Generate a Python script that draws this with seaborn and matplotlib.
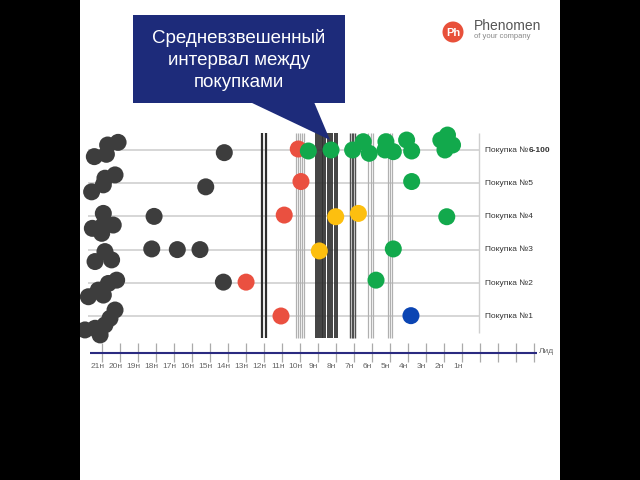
import numpy as np
import pandas as pd
import matplotlib
matplotlib.use("Agg")
import matplotlib.pyplot as plt
import seaborn as sns
from matplotlib.patches import Rectangle, Polygon, Ellipse

sns.set_theme(style="white")
plt.rcParams['font.family'] = ['Liberation Sans', 'DejaVu Sans']

# ---------------- data ----------------
row_labels = ["Покупка №1", "Покупка №2", "Покупка №3", "Покупка №4", "Покупка №5", "Покупка №"]
row_bold_suffix = ["", "", "", "", "", "6-100"]
row_levels = [0, 1, 2, 3, 4, 5]

week_ticks = [21, 20, 19, 18, 17, 16, 15, 14, 13, 12, 11, 10, 9, 8, 7, 6, 5, 4, 3, 2, 1, 0, -1, -2, -3]
week_labels = ["21н", "20н", "19н", "18н", "17н", "16н", "15н", "14н", "13н", "12н", "11н",
               "10н", "9н", "8н", "7н", "6н", "5н", "4н", "3н", "2н", "1н"]
lead_label = "Лид"

dark_week = [21.41, 20.74, 20.67, 20.09, 14.19,
             21.56, 20.91, 20.82, 20.26, 15.22,
             21.52, 20.91, 21.00, 20.36, 20.91, 18.09,
             21.37, 20.82, 20.45, 18.22, 16.80, 15.54,
             21.74, 21.19, 20.63, 20.17, 20.91, 14.24,
             21.93, 21.37, 21.09, 20.54, 20.26, 20.82]
dark_level = [4.80, 4.87, 5.15, 5.23, 4.92,
              3.74, 3.95, 4.15, 4.25, 3.89,
              2.64, 3.09, 2.49, 2.74, 2.74, 3.00,
              1.64, 1.94, 1.69, 2.02, 2.00, 2.00,
              0.58, 0.78, 0.98, 1.08, 0.63, 1.02,
              -0.42, -0.37, -0.57, -0.07, 0.18, -0.27]

red_week = [10.08, 9.93, 10.86, 12.98, 11.04]
red_level = [5.03, 4.05, 3.04, 1.02, 0.00]

yellow_week = [8.00, 6.74, 8.91]
yellow_level = [2.99, 3.09, 1.96]

green_week = [9.52, 8.26, 7.06, 6.47, 6.14, 5.21, 5.26, 4.80, 4.06, 3.78, 2.16, 1.79, 1.51, 1.93,
              3.78, 1.83, 4.80, 5.76]
green_level = [4.97, 5.00, 5.00, 5.25, 4.90, 5.25, 5.00, 4.95, 5.30, 4.97, 5.30, 5.45, 5.15, 5.00,
               4.05, 2.99, 2.02, 1.08]

blue_week = [3.82]
blue_level = [0.01]

interval_weeks = [12.12, 11.87,
                  10.21, 10.11, 9.98, 9.89, 9.76,
                  9.09, 8.97, 8.86, 8.78, 8.69, 8.59, 8.44, 8.32, 8.19, 8.04, 7.94,
                  7.21, 7.11, 7.02, 6.93,
                  6.19, 6.06, 5.94,
                  5.08, 4.98, 4.86]
interval_tone = ["bold", "bold",
                 "light", "light", "light", "light", "light",
                 "dark", "dark", "dark", "dark", "dark", "dark", "dark", "dark", "dark", "dark", "dark",
                 "mid", "mid", "mid", "mid",
                 "light", "light", "light",
                 "light", "light", "light"]

callout_text = "Средневзвешенный\nинтервал между\nпокупками"

df = pd.DataFrame({
    "week": dark_week + red_week + yellow_week + green_week + blue_week,
    "level": dark_level + red_level + yellow_level + green_level + blue_level,
    "group": (["dark"] * len(dark_week) + ["red"] * len(red_week) + ["yellow"] * len(yellow_week)
              + ["green"] * len(green_week) + ["blue"] * len(blue_week)),
})
palette = {"dark": "#3d3d3d", "red": "#ea5040", "yellow": "#fdbf0f",
           "green": "#12a94c", "blue": "#0b45b3"}

# ---------------- figure ----------------
fig = plt.figure(figsize=(6.4, 4.8), dpi=100, facecolor="black")
fig.patches.append(Rectangle((80 / 640, 0), 480 / 640, 1, transform=fig.transFigure,
                             facecolor="white", edgecolor="none", zorder=-5))

ax = fig.add_axes([80 / 640, 0, 480 / 640, 1])
ax.set_zorder(1)
ax.set_facecolor("none")

# row lines
ax.hlines(row_levels, 21.76, 0.04, color="#cfcfcf", lw=1.2, zorder=1)
ax.vlines(0.04, -0.51, 5.51, color="#cfcfcf", lw=1.0, zorder=1)

# interval lines
tone_col = {"bold": "#2e2e2e", "dark": "#333333", "mid": "#505050", "light": "#b0b0b0"}
tone_lw = {"bold": 1.6, "dark": 1.3, "mid": 1.0, "light": 0.9}
for w, t in zip(interval_weeks, interval_tone):
    ax.vlines(w, -0.66, 5.51, color=tone_col[t], lw=tone_lw[t], zorder=2)

# dots
sns.scatterplot(data=df, x="week", y="level", hue="group", palette=palette,
                s=150, linewidth=0, legend=False, ax=ax, zorder=3)

# x axis
ax.hlines(-1.105, 21.65, -3.18, color="#2a2a80", lw=1.5, zorder=2)
ax.vlines(week_ticks, -1.386, -0.813, color="#aaaaaa", lw=0.9, zorder=1)
for w, lab in zip(week_ticks, week_labels):
    ax.text(w + 0.22, -1.536, lab, ha="center", va="center", fontsize=6, color="#666666")
ax.text(-3.29, -1.08, lead_label, ha="left", va="center", fontsize=6, color="#666666")

# row labels
for lvl, lab, suf in zip(row_levels, row_labels, row_bold_suffix):
    t = ax.text(-0.32, lvl, lab, ha="left", va="center", fontsize=6.0, color="#333333")
    if suf:
        ax.annotate(suf, xy=(1, 0), xycoords=t, ha="left", va="bottom",
                    fontsize=6.0, fontweight="bold", color="#333333")

ax.set_xlim(22.206, -4.461)
ax.set_ylim(-4.940, 9.518)
ax.axis("off")

# callout
def P(x, y):
    return (x / 640, 1 - y / 480)

navy = "#1d2b7a"
fig.patches.append(Polygon([P(133, 15), P(345, 15), P(345, 103), P(133, 103)], closed=True,
                           transform=fig.transFigure, facecolor=navy, edgecolor="none", zorder=5))
fig.patches.append(Polygon([P(250, 102), P(314, 102), P(330, 140)], closed=True,
                           transform=fig.transFigure, facecolor=navy, edgecolor="none", zorder=5))
fig.text(*P(239, 60), callout_text, ha="center", va="center", fontsize=13.5, color="white",
         linespacing=1.36, zorder=6)

# logo
fig.patches.append(Ellipse(P(453, 32), 21 / 640, 21 / 480, transform=fig.transFigure,
                           facecolor="#e8503a", edgecolor="none", zorder=5))
fig.text(*P(453, 32.5), "Ph", ha="center", va="center", fontsize=8, fontweight="bold",
         color="white", zorder=6)
fig.text(*P(474, 26), "Phenomen", ha="left", va="center", fontsize=10, color="#555555")
fig.text(*P(474, 36.5), "of your company", ha="left", va="center", fontsize=5.5, color="#888888")

fig.savefig("out.png", dpi=100, facecolor="black")
